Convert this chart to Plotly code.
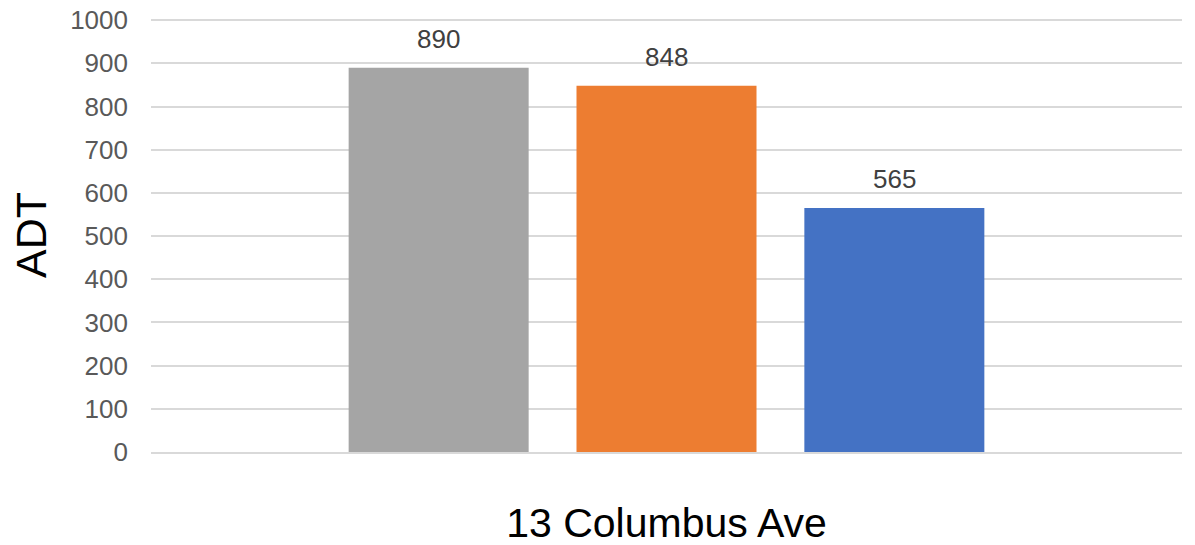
import plotly.graph_objects as go

# data
location = ["13 Columbus Ave"]
series_names = ["Series 1", "Series 2", "Series 3"]
series_values = [[890], [848], [565]]
bar_colors = ["#A5A5A5", "#ED7D31", "#4472C4"]
y_ticks = list(range(0, 1001, 100))

FONT = "Arial, 'Liberation Sans', sans-serif"
BARGAP = 0.337
GROUPGAP = 0.21

fig = go.Figure()
n = len(series_names)
slot = (1 - BARGAP) / n
for i, (name, vals, color) in enumerate(zip(series_names, series_values, bar_colors)):
    fig.add_trace(go.Bar(
        x=location, y=vals, name=name,
        marker=dict(color=color, line=dict(width=0)),
    ))
    # value labels above each bar, centred on the bar's slot in the group
    for k, v in enumerate(vals):
        fig.add_annotation(
            x=k + (i - (n - 1) / 2) * slot, y=v, text=str(v),
            xref="x", yref="y", showarrow=False,
            xanchor="center", yanchor="bottom", yshift=12,
            font=dict(family=FONT, size=26, color="#404040"),
        )

fig.update_layout(
    width=1195, height=545,
    margin=dict(l=151, r=13, t=18, b=93),
    paper_bgcolor="white", plot_bgcolor="white",
    showlegend=False,
    barmode="group", bargap=BARGAP, bargroupgap=GROUPGAP,
    font=dict(family=FONT),
)
fig.update_xaxes(
    automargin=False,
    showgrid=False, showline=True, linecolor="#D9D9D9", linewidth=1.5,
    ticks="", tickfont=dict(family=FONT, size=41, color="#000000"),
    ticklabelstandoff=34,
)
# a little headroom so plotly keeps the gridline at 1000
fig.update_yaxes(
    automargin=False,
    range=[0, 1005], tickvals=y_ticks,
    showgrid=True, gridcolor="#D9D9D9", gridwidth=1.5,
    zeroline=False, showline=False, ticks="",
    tickfont=dict(family=FONT, size=26, color="#595959"),
    ticklabelstandoff=22,
    title=dict(text="ADT", font=dict(family=FONT, size=43, color="#000000"), standoff=10),
)

# drop the page's default body margin so the figure fills the window
fig.write_html("out.html", config={"displayModeBar": False},
               post_script="document.body.style.margin='0';")
